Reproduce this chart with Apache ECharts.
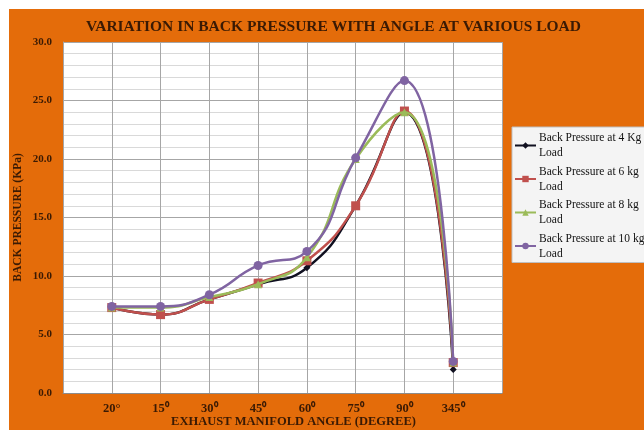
<!DOCTYPE html>
<html>
<head>
<meta charset="utf-8">
<script src="https://cdn.jsdelivr.net/npm/echarts@6/dist/echarts.min.js"></script>
<style>
html,body{margin:0;padding:0;background:#ffffff;width:644px;height:430px;overflow:hidden;}
#chart{position:absolute;left:9px;top:9px;width:635px;height:421px;}
</style>
</head>
<body>
<div id="chart"></div>
<script>
var categories = ['20°', '15⁰', '30⁰', '45⁰', '60⁰', '75⁰', '90⁰', '345⁰'];
var load4kg  = [7.3, 6.7, 8.0, 9.3, 10.7, 16.0, 24.0, 2.0];
var load6kg  = [7.3, 6.7, 8.0, 9.4, 11.3, 16.0, 24.1, 2.6];
var load8kg  = [7.3, 7.3, 8.2, 9.3, 11.6, 20.0, 24.0, 2.6];
var load10kg = [7.4, 7.4, 8.4, 10.9, 12.1, 20.1, 26.7, 2.7];
var seriesNames = ['Back Pressure at 4 Kg Load', 'Back Pressure at 6 kg Load', 'Back Pressure at 8 kg Load', 'Back Pressure at 10 kg Load'];
var yTicks = [0, 5, 10, 15, 20, 25, 30];

var txt = '#3a1a04';
var font = '"Liberation Serif", "Times New Roman", serif';
var padCats = [''].concat(categories, ['']);
function pad(a){ return [null].concat(a, [null]); }

var colors = ['#101020', '#c0504d', '#9bbb59', '#8064a2'];
var symbols = ['diamond', 'rect', 'triangle', 'circle'];
var sizes = [7, 9, 8, 9];
var datasets = [load4kg, load6kg, load8kg, load10kg];

var chart = echarts.init(document.getElementById('chart'));
chart.setOption({
  backgroundColor: '#e46c0a',
  animation: false,
  title: {
    text: 'VARIATION IN BACK PRESSURE WITH ANGLE AT VARIOUS LOAD',
    left: 72, top: 5,
    textStyle: { fontFamily: font, fontWeight: 'bold', fontSize: 15.5, color: txt }
  },
  grid: {
    left: 54, top: 33, right: 142, bottom: 37,
    containLabel: false,
    outerBoundsMode: 'none',
    show: true, backgroundColor: '#ffffff', borderWidth: 0
  },
  legend: {
    orient: 'vertical',
    left: 503, top: 118,
    backgroundColor: '#f4f4f4',
    borderColor: '#bfbfbf', borderWidth: 1,
    padding: [-4, 6, -6, 2],
    itemWidth: 21, itemHeight: 8,
    itemGap: -11.5,
    formatter: function(n){ return n.replace(' Load', '\nLoad'); },
    textStyle: { fontFamily: font, fontSize: 11.5, color: '#111111', lineHeight: 15, padding: [15, 0, 0, -2] },
    data: seriesNames
  },
  xAxis: {
    type: 'category',
    data: padCats,
    boundaryGap: false,
    name: 'EXHAUST MANIFOLD ANGLE (DEGREE)',
    nameLocation: 'middle',
    nameGap: 22,
    nameMoveOverlap: false,
    nameTextStyle: { fontFamily: font, fontWeight: 'bold', fontSize: 12.5, color: txt, padding: [0, 0, 0, 22] },
    axisLine: { show: true, lineStyle: { color: '#8c8c8c', width: 1 } },
    axisTick: { show: false },
    axisLabel: { interval: 0, margin: 9, fontFamily: font, fontWeight: 'bold', fontSize: 12.5, color: txt },
    splitLine: { show: true, interval: 0, lineStyle: { color: '#a6a6a6', width: 1 } }
  },
  yAxis: {
    type: 'value',
    min: yTicks[0], max: yTicks[yTicks.length - 1], interval: 5,
    name: 'BACK PRESSURE (KPa)',
    nameLocation: 'middle',
    nameGap: 39,
    nameMoveOverlap: false,
    nameTextStyle: { fontFamily: font, fontWeight: 'bold', fontSize: 11.5, color: txt },
    axisLine: { show: true, lineStyle: { color: '#a6a6a6', width: 1 } },
    axisTick: { show: false },
    axisLabel: { margin: 11, fontFamily: font, fontWeight: 'bold', fontSize: 11, color: txt,
      formatter: function(v){ return v.toFixed(1); } },
    splitLine: { show: true, lineStyle: { color: '#a6a6a6', width: 1 } },
    minorTick: { show: false, splitNumber: 5 },
    minorSplitLine: { show: true, lineStyle: { color: '#d9d9d9', width: 1 } }
  },
  series: datasets.map(function(d, i){
    return {
      name: seriesNames[i],
      type: 'line',
      data: pad(d),
      smooth: 0.5,
      symbol: symbols[i],
      symbolSize: sizes[i],
      showSymbol: true,
      lineStyle: { color: colors[i], width: 2.5 },
      itemStyle: { color: colors[i] },
      z: 2 + i
    };
  })
});
</script>
</body>
</html>
